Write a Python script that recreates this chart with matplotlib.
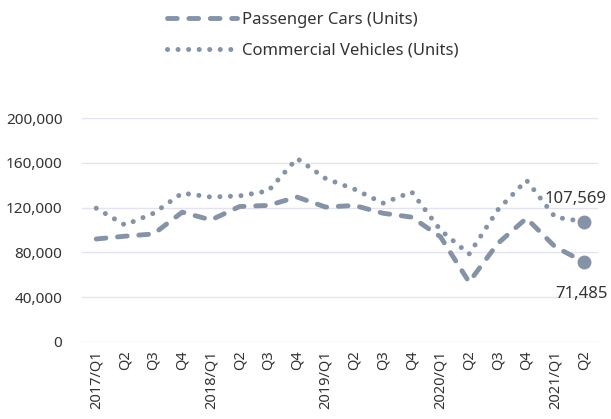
import matplotlib.pyplot as plt
from matplotlib.ticker import FuncFormatter

quarters = ['2017/Q1', 'Q2', 'Q3', 'Q4',
            '2018/Q1', 'Q2', 'Q3', 'Q4',
            '2019/Q1', 'Q2', 'Q3', 'Q4',
            '2020/Q1', 'Q2', 'Q3', 'Q4',
            '2021/Q1', 'Q2']

passenger = [92000, 94500, 96500, 116000, 109000, 121000, 122000, 129500,
             120500, 122000, 115000, 111500, 94000, 53500, 88000, 110500,
             85000, 71485]
commercial = [119500, 104500, 115000, 133000, 129500, 130500, 135000, 164000,
              146000, 136500, 124000, 134000, 100000, 78500, 118000, 144500,
              111500, 107569]

line_color = '#8693A6'
text_color = '#333333'

plt.rcParams['font.family'] = ['Noto Sans', 'DejaVu Sans']

fig = plt.figure(figsize=(6.11, 4.19), dpi=100)
ax = fig.add_axes([0.134, 0.184, 0.845, 0.534])

x = list(range(len(quarters)))

# dashed series with round caps
pc, = ax.plot(x, passenger, color=line_color, lw=3.5, dashes=(2.0, 2.4),
              dash_capstyle='round', label='Passenger Cars (Units)', zorder=3)
cv, = ax.plot(x, commercial, color=line_color, lw=3.6, dashes=(0.01, 2.1),
              dash_capstyle='round', label='Commercial Vehicles (Units)', zorder=3)

# end markers + labels
ax.plot(x[-1], passenger[-1], 'o', color=line_color, ms=9, zorder=4)
ax.plot(x[-1], commercial[-1], 'o', color=line_color, ms=9, zorder=4)
ax.annotate(f'{commercial[-1]:,}', (x[-1], commercial[-1]), xytext=(-6, 16),
            textcoords='offset points', ha='center', va='center',
            fontsize=12, color=text_color)
ax.annotate(f'{passenger[-1]:,}', (x[-1], passenger[-1]), xytext=(-2, -23),
            textcoords='offset points', ha='center', va='center',
            fontsize=12, color=text_color)

ax.set_xlim(-0.5, len(quarters) - 0.5)
ax.set_ylim(0, 200000)
ax.set_yticks([0, 40000, 80000, 120000, 160000, 200000])
ax.yaxis.set_major_formatter(FuncFormatter(lambda v, p: f'{int(v):,}'))
ax.set_xticks(x)
ax.set_xticklabels(quarters, rotation=90)

ax.grid(True, axis='y', color='#E4E4F0', lw=1)
ax.set_axisbelow(True)
for s in ax.spines.values():
    s.set_visible(False)
ax.tick_params(axis='y', length=0, labelsize=11, colors=text_color, pad=14)
ax.tick_params(axis='x', length=0, labelsize=10.5, colors=text_color, pad=6)

fig.legend(handles=[pc, cv], loc='upper left', bbox_to_anchor=(0.255, 1.0),
           ncol=1, frameon=False, fontsize=12, handlelength=4.2,
           labelspacing=0.9, labelcolor=text_color, handletextpad=0.3,
           borderaxespad=0.3)

plt.savefig('out.png', dpi=100)
